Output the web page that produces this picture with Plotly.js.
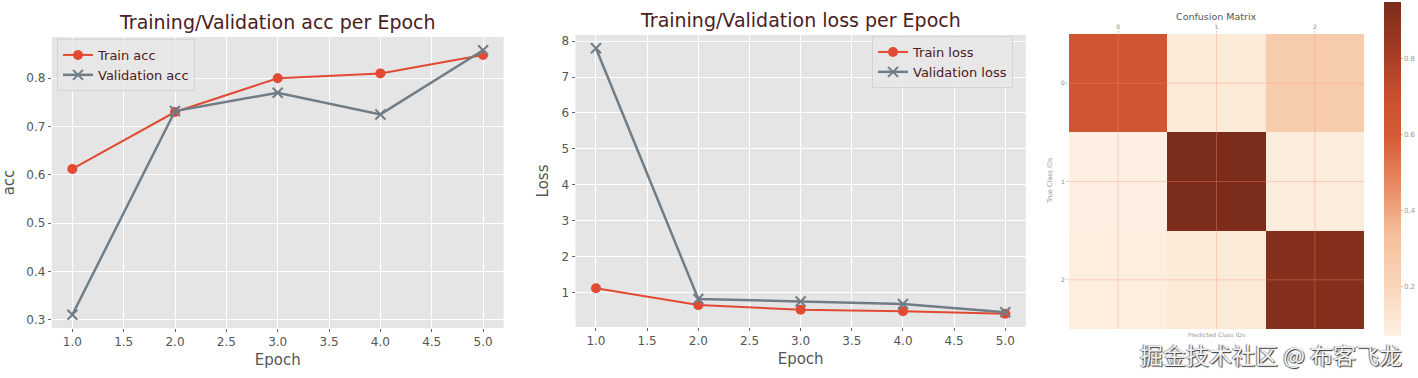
<!DOCTYPE html>
<html>
<head>
<meta charset="utf-8">
<script src="https://cdn.plot.ly/plotly-3.0.1.min.js"></script>
<style>
  html, body { margin: 0; padding: 0; background: #ffffff; }
  #chart { width: 1418px; height: 378px; }
</style>
</head>
<body>
<div id="chart"></div>
<script>
// ---- data ----
const epochs = [1, 2, 3, 4, 5];
const trainAcc = [0.612, 0.730, 0.800, 0.810, 0.848];
const valAcc = [0.310, 0.732, 0.770, 0.725, 0.858];
const trainLoss = [1.12, 0.65, 0.52, 0.48, 0.41];
const valLoss = [7.80, 0.82, 0.75, 0.68, 0.45];
const classIds = [0, 1, 2];
const confusion = [
  [0.64, 0.10, 0.26],
  [0.07, 0.95, 0.09],
  [0.08, 0.10, 0.92]
];
const accTicks = [0.3, 0.4, 0.5, 0.6, 0.7, 0.8];
const lossTicks = [1, 2, 3, 4, 5, 6, 7, 8];
const epochTicks = [1.0, 1.5, 2.0, 2.5, 3.0, 3.5, 4.0, 4.5, 5.0];
const cbarTicks = [0.2, 0.4, 0.6, 0.8];

// ---- styling ----
const W = 1418, H = 378;
const px = v => v / W;
const py = v => 1 - v / H;
const orange = '#E24A33';
const grey = '#717d86';
const tickFont = { family: 'DejaVu Sans', size: 12, color: '#555555' };
const titleColor = '#4a2020';

function lineAxis(domain, ticks, fmt, range) {
  return {
    domain: domain,
    range: range,
    tickvals: ticks,
    ticktext: ticks.map(fmt),
    showgrid: true, gridcolor: '#ffffff', gridwidth: 1,
    zeroline: false, showline: false,
    ticks: 'outside', ticklen: 3, tickcolor: '#666666', tickwidth: 1,
    tickfont: tickFont
  };
}
function pad(arr) {
  const mn = Math.min(...arr), mx = Math.max(...arr);
  const d = (mx - mn) * 0.05;
  return [mn - d, mx + d];
}

const accRange = pad(valAcc.concat(trainAcc));
const lossRange = pad(valLoss.concat(trainLoss));
const epRange = pad(epochs);

const traces = [
  { x: epochs, y: trainAcc, name: 'Train acc', type: 'scatter', mode: 'lines+markers',
    xaxis: 'x', yaxis: 'y', legend: 'legend',
    line: { color: orange, width: 2 }, marker: { symbol: 'circle', size: 10, color: orange } },
  { x: epochs, y: valAcc, name: 'Validation acc', type: 'scatter', mode: 'lines+markers',
    xaxis: 'x', yaxis: 'y', legend: 'legend',
    line: { color: grey, width: 2.5 }, marker: { symbol: 'x-thin', size: 10, line: { color: grey, width: 2 } } },
  { x: epochs, y: trainLoss, name: 'Train loss', type: 'scatter', mode: 'lines+markers',
    xaxis: 'x2', yaxis: 'y2', legend: 'legend2',
    line: { color: orange, width: 2 }, marker: { symbol: 'circle', size: 10, color: orange } },
  { x: epochs, y: valLoss, name: 'Validation loss', type: 'scatter', mode: 'lines+markers',
    xaxis: 'x2', yaxis: 'y2', legend: 'legend2',
    line: { color: grey, width: 2.5 }, marker: { symbol: 'x-thin', size: 10, line: { color: grey, width: 2 } } },
  { x: classIds, y: classIds, z: confusion, type: 'heatmap', xaxis: 'x3', yaxis: 'y3',
    showscale: true, showlegend: false,
    colorscale: [[0, '#fdf0e3'], [0.15, '#f9d6b9'], [0.3, '#f5c09c'], [0.45, '#e98b64'],
                 [0.6, '#d45a35'], [0.7, '#cc5230'], [0.85, '#a43c24'], [1, '#7c2c1b']],
    colorbar: {
      x: px(1384), xanchor: 'left', y: py(2), yanchor: 'top',
      thickness: 17, thicknessmode: 'pixels', len: 334, lenmode: 'pixels',
      xpad: 0, ypad: 0, outlinewidth: 0,
      tickvals: cbarTicks, ticktext: cbarTicks.map(v => v.toFixed(1)),
      ticks: 'outside', ticklen: 2, tickcolor: '#bbbbbb',
      tickfont: { family: 'DejaVu Sans', size: 7, color: '#999999' }
    } }
];

// grid lines across the confusion matrix at the class ticks
const lo = classIds[0] - 0.5, hi = classIds[classIds.length - 1] + 0.5;
const shapes = [];
classIds.forEach(c => {
  shapes.push({ type: 'line', xref: 'x3', yref: 'y3', x0: c, x1: c, y0: lo, y1: hi, layer: 'above',
    line: { color: 'rgba(255,140,100,0.35)', width: 1 } });
  shapes.push({ type: 'line', xref: 'x3', yref: 'y3', x0: lo, x1: hi, y0: c, y1: c, layer: 'above',
    line: { color: 'rgba(255,140,100,0.35)', width: 1 } });
});

const legendBase = {
  xanchor: 'left', yanchor: 'top',
  bgcolor: 'rgba(232,232,232,0.85)', bordercolor: '#d4d4d4', borderwidth: 1,
  font: { family: 'DejaVu Sans', size: 13, color: titleColor },
  itemwidth: 30, tracegroupgap: 0
};

const layout = {
  width: W, height: H,
  margin: { l: 0, r: 0, t: 0, b: 0 },
  paper_bgcolor: '#ffffff',
  plot_bgcolor: '#E5E5E5',
  font: { family: 'DejaVu Sans' },
  showlegend: true,
  legend: Object.assign({}, legendBase, { x: px(57), y: py(39) }),
  legend2: Object.assign({}, legendBase, { x: px(872), y: py(36) }),
  xaxis: Object.assign(lineAxis([px(51.8), px(503.6)], epochTicks, v => v.toFixed(1), epRange),
    { anchor: 'y', title: { text: 'Epoch', font: { family: 'DejaVu Sans', size: 15, color: '#555555' }, standoff: 6 } }),
  yaxis: Object.assign(lineAxis([py(328), py(37)], accTicks, v => v.toFixed(1), accRange),
    { anchor: 'x', title: { text: 'acc', font: { family: 'DejaVu Sans', size: 15, color: '#555555' }, standoff: 8 } }),
  xaxis2: Object.assign(lineAxis([px(575.5), px(1025.8)], epochTicks, v => v.toFixed(1), epRange),
    { anchor: 'y2', title: { text: 'Epoch', font: { family: 'DejaVu Sans', size: 15, color: '#555555' }, standoff: 6 } }),
  yaxis2: Object.assign(lineAxis([py(327), py(35)], lossTicks, v => String(v), lossRange),
    { anchor: 'x2', title: { text: 'Loss', font: { family: 'DejaVu Sans', size: 15, color: '#555555' }, standoff: 9 } }),
  xaxis3: {
    domain: [px(1069), px(1364)], anchor: 'y3', side: 'top',
    range: [lo, hi], tickvals: classIds, ticktext: classIds.map(String),
    showgrid: false, zeroline: false, showline: false,
    ticks: 'outside', ticklen: 2, tickcolor: '#cccccc',
    tickfont: { family: 'DejaVu Sans', size: 6, color: '#888888' }
  },
  yaxis3: {
    domain: [py(329), py(34)], anchor: 'x3',
    range: [hi, lo], tickvals: classIds, ticktext: classIds.map(String),
    showgrid: false, zeroline: false, showline: false,
    ticks: 'outside', ticklen: 2, tickcolor: '#cccccc',
    tickfont: { family: 'DejaVu Sans', size: 6, color: '#888888' }
  },
  shapes: shapes,
  annotations: [
    { text: 'Training/Validation acc per Epoch', xref: 'paper', yref: 'paper',
      x: px(277.7), y: py(22), xanchor: 'center', yanchor: 'middle', showarrow: false,
      font: { family: 'DejaVu Sans', size: 19, color: titleColor } },
    { text: 'Training/Validation loss per Epoch', xref: 'paper', yref: 'paper',
      x: px(800.6), y: py(20), xanchor: 'center', yanchor: 'middle', showarrow: false,
      font: { family: 'DejaVu Sans', size: 19, color: titleColor } },
    { text: 'Confusion Matrix', xref: 'paper', yref: 'paper',
      x: px(1216.5), y: py(16), xanchor: 'center', yanchor: 'middle', showarrow: false,
      font: { family: 'DejaVu Sans', size: 9.5, color: '#555555' } },
    { text: 'True Class IDs', xref: 'paper', yref: 'paper', textangle: -90,
      x: px(1050), y: py(181), xanchor: 'center', yanchor: 'middle', showarrow: false,
      font: { family: 'DejaVu Sans', size: 6.5, color: '#999999' } },
    { text: 'Predicted Class IDs', xref: 'paper', yref: 'paper',
      x: px(1216.5), y: py(329), xanchor: 'center', yanchor: 'top', showarrow: false,
      font: { family: 'DejaVu Sans', size: 6, color: '#999999' } },
    { text: '掘金技术社区 @ 布客飞龙', xref: 'paper', yref: 'paper',
      x: px(1404), y: py(373), xanchor: 'right', yanchor: 'bottom', showarrow: false,
      font: { family: 'Noto Sans CJK SC', size: 23, color: '#f4f4f4',
              shadow: '1px 1px 1px #333333, -1px 0px 1px #777777' } }
  ]
};

Plotly.newPlot('chart', traces, layout, { staticPlot: true, displayModeBar: false });
</script>
</body>
</html>
